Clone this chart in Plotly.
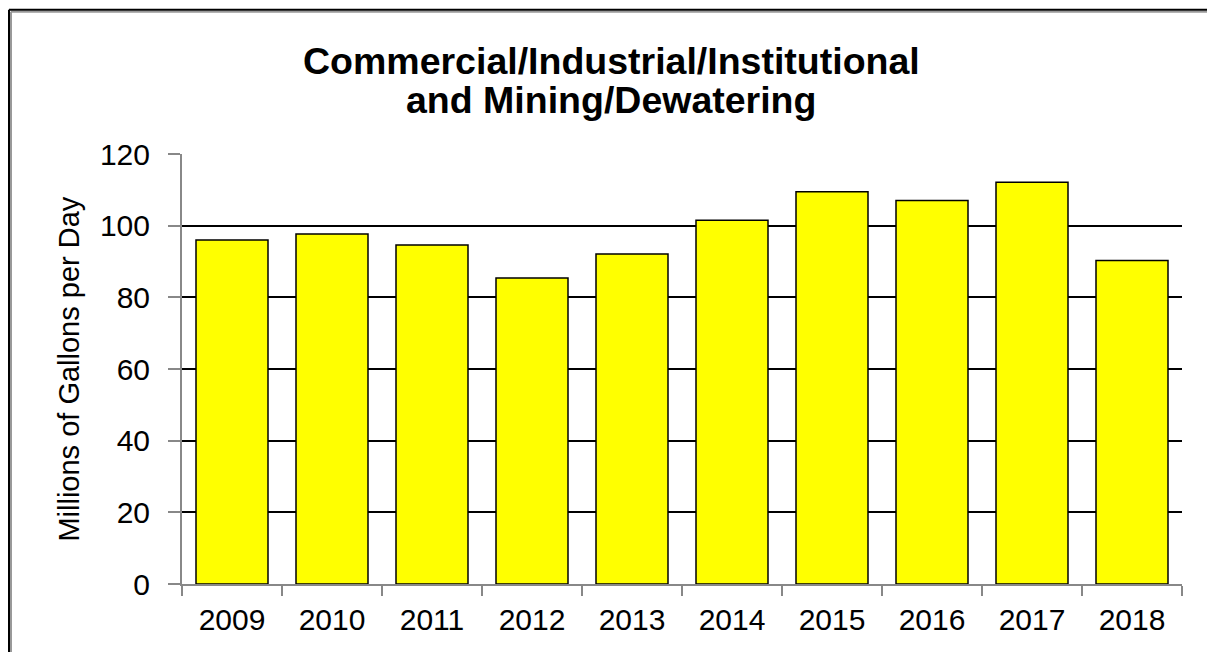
import plotly.graph_objects as go

years = ["2009", "2010", "2011", "2012", "2013", "2014", "2015", "2016", "2017", "2018"]
values = [96.0, 97.7, 94.6, 85.4, 92.1, 101.5, 109.5, 107.0, 112.1, 90.3]
title_lines = ["Commercial/Industrial/Institutional", "and Mining/Dewatering"]
y_title = "Millions of Gallons per Day"

# page has an 8px body margin, so figure coords = page coords - 8
W, H = 1207, 644
L, T = 174, 145.5
R = W - 1174
B = H - 576.3
pw, ph = W - L - R, H - T - B

def px(x):
    return (x - L) / pw

def py(y):
    return (H - B - y) / ph

fig = go.Figure(go.Bar(
    x=years, y=values,
    marker=dict(color="#FFFF00", line=dict(color="black", width=1.5)),
))

fig.update_layout(
    width=W, height=H,
    margin=dict(l=L, r=R, t=T, b=B),
    paper_bgcolor="white", plot_bgcolor="white",
    bargap=0.28,
    showlegend=False,
    font=dict(family="Liberation Sans, Arial, sans-serif", color="black"),
)
fig.update_xaxes(
    showline=True, linecolor="#888888", linewidth=2,
    ticks="outside", tickson="boundaries", tickcolor="#888888", ticklen=10, tickwidth=2,
    tickfont=dict(size=30, color="black"), ticklabelstandoff=8, showgrid=False,
)
fig.update_yaxes(
    range=[0, 120], dtick=20, tick0=0,
    showline=True, linecolor="#888888", linewidth=2,
    ticks="outside", tickcolor="#888888", ticklen=12, tickwidth=2,
    tickfont=dict(size=30, color="black"), ticklabelstandoff=12,
    showgrid=True, gridcolor="black", gridwidth=1.6, zeroline=False,
)

ann = []
for txt, yy in zip(title_lines, [52, 91]):
    ann.append(dict(text="<b>%s</b>" % txt, xref="paper", yref="paper",
                    x=px(603), y=py(yy), xanchor="center", yanchor="middle",
                    showarrow=False, font=dict(size=37.5, color="black")))
ann.append(dict(text=y_title, xref="paper", yref="paper", x=px(61.5), y=py(361),
                xanchor="center", yanchor="middle", textangle=-90, showarrow=False,
                font=dict(size=29, color="black")))
fig.update_layout(annotations=ann)

shapes = [
    dict(type="line", xref="paper", yref="paper", x0=px(3), x1=px(1300), y0=py(3), y1=py(3),
         line=dict(color="#999999", width=2)),
    dict(type="line", xref="paper", yref="paper", x0=px(3), x1=px(3), y0=py(3), y1=py(700),
         line=dict(color="#999999", width=2)),
    dict(type="line", xref="paper", yref="paper", x0=px(1), x1=px(1300), y0=py(1), y1=py(1),
         line=dict(color="black", width=2)),
    dict(type="line", xref="paper", yref="paper", x0=px(1), x1=px(1), y0=py(1), y1=py(700),
         line=dict(color="black", width=2)),
]
fig.update_layout(shapes=shapes)

fig.write_html("out.html")
